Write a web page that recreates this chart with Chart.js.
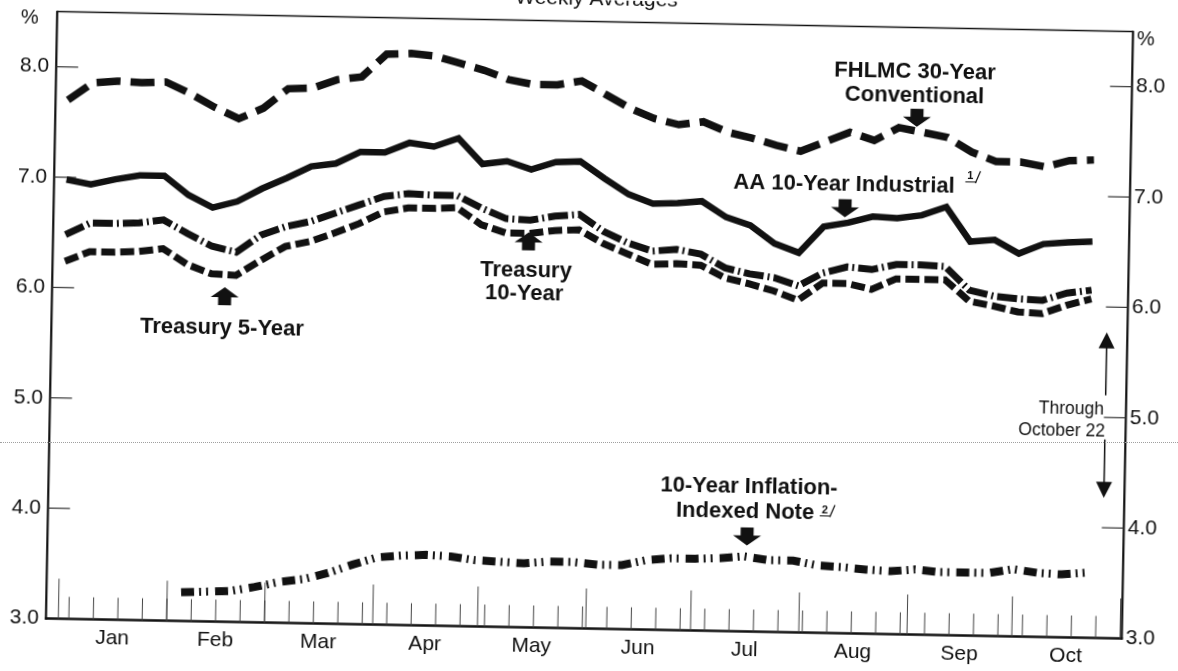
<!DOCTYPE html>
<html>
<head>
<meta charset="utf-8">
<script src="https://cdn.jsdelivr.net/npm/chart.js@4.4.1/dist/chart.umd.min.js"></script>
<style>
html,body{margin:0;padding:0;background:#fff;overflow:hidden;width:1178px;height:671px;}
#wrap{position:absolute;left:0;top:0;width:1178px;height:671px;transform:rotate(1.065deg);transform-origin:589px 335.5px;}
#fold{position:absolute;left:0;top:442px;width:1178px;height:0;border-top:1px dotted #a0a0a0;}
canvas{display:block;}
</style>
</head>
<body>
<div id="wrap"><canvas id="c" width="1178" height="671"></canvas></div>
<div id="fold"></div>
<script>
// ---- categories (weekly averages, 1997) ----
const weekDates = [
 '1997-01-01','1997-01-08','1997-01-15','1997-01-22','1997-01-29',
 '1997-02-05','1997-02-12','1997-02-19','1997-02-26',
 '1997-03-05','1997-03-12','1997-03-19','1997-03-26',
 '1997-04-02','1997-04-09','1997-04-16','1997-04-23','1997-04-30',
 '1997-05-07','1997-05-14','1997-05-21','1997-05-28',
 '1997-06-04','1997-06-11','1997-06-18','1997-06-25',
 '1997-07-02','1997-07-09','1997-07-16','1997-07-23','1997-07-30',
 '1997-08-06','1997-08-13','1997-08-20','1997-08-27',
 '1997-09-03','1997-09-10','1997-09-17','1997-09-24',
 '1997-10-01','1997-10-08','1997-10-15','1997-10-22'
];
const monthNames = ['Jan','Feb','Mar','Apr','May','Jun','Jul','Aug','Sep','Oct'];
const monthStartDates = ['1997-01-01','1997-02-01','1997-03-01','1997-04-01','1997-05-01','1997-06-01',
 '1997-07-01','1997-08-01','1997-09-01','1997-10-01','1997-11-01'];
const yTickValues = [3, 4, 5, 6, 7, 8];

// ---- series (percent) ----
const fhlmc30 = [7.70,7.86,7.88,7.87,7.88,7.78,7.66,7.56,7.66,7.84,7.85,7.93,7.96,8.17,8.18,8.16,8.10,8.04,7.96,7.92,7.92,7.96,7.84,7.72,7.63,7.58,7.61,7.52,7.47,7.41,7.36,7.45,7.54,7.47,7.59,7.55,7.51,7.38,7.30,7.30,7.26,7.32,7.33];
const aa10 = [6.98,6.94,6.99,7.03,7.03,6.86,6.75,6.81,6.93,7.03,7.14,7.17,7.28,7.28,7.37,7.34,7.42,7.19,7.22,7.15,7.22,7.23,7.08,6.94,6.86,6.87,6.89,6.75,6.68,6.52,6.44,6.68,6.72,6.78,6.77,6.80,6.88,6.57,6.59,6.47,6.56,6.58,6.59];
const treasury10 = [6.48,6.59,6.59,6.60,6.63,6.51,6.40,6.35,6.51,6.59,6.64,6.72,6.80,6.88,6.91,6.90,6.90,6.79,6.70,6.69,6.73,6.75,6.60,6.50,6.43,6.45,6.41,6.29,6.24,6.21,6.14,6.26,6.32,6.30,6.35,6.35,6.34,6.13,6.08,6.06,6.05,6.12,6.15];
const treasury5 = [6.24,6.33,6.33,6.34,6.37,6.23,6.15,6.14,6.28,6.41,6.46,6.54,6.63,6.74,6.78,6.78,6.79,6.64,6.57,6.57,6.60,6.61,6.49,6.40,6.31,6.32,6.31,6.20,6.15,6.09,6.01,6.17,6.17,6.12,6.22,6.22,6.22,6.03,5.99,5.94,5.93,6.01,6.07];
const tips10 = [null,null,null,null,null,3.26,3.27,3.28,3.32,3.37,3.40,3.46,3.54,3.61,3.63,3.64,3.63,3.60,3.59,3.58,3.60,3.60,3.58,3.58,3.63,3.65,3.65,3.66,3.68,3.65,3.65,3.61,3.60,3.58,3.57,3.59,3.57,3.57,3.57,3.61,3.58,3.57,3.59];

// ---- derived positions (days since Jan 1) ----
const Y0 = Date.UTC(1997, 0, 1);
const dayOf = s => (Date.parse(s + 'T00:00:00Z') - Y0) / 86400000;
const weekDays = weekDates.map(dayOf);
const monthStarts = monthStartDates.map(dayOf);
const monthCenters = monthNames.map((_, i) => (monthStarts[i] + monthStarts[i + 1]) / 2);
const WEEK_TICK_OFFSET = 3;

const FONT = "'Liberation Sans', Arial, Helvetica, sans-serif";
const INK = '#111';

const seriesList = [
  {label: 'FHLMC 30-Year Conventional', values: fhlmc30, width: 7.5, dash: [24, 10]},
  {label: 'AA 10-Year Industrial', values: aa10, width: 6.5, dash: []},
  {label: 'Treasury 10-Year', values: treasury10, width: 7, dash: [20, 4, 2, 4]},
  {label: 'Treasury 5-Year', values: treasury5, width: 7, dash: [14, 5]},
  {label: '10-Year Inflation-Indexed Note', values: tips10, width: 8, dash: [13, 5, 2, 5, 2, 7]}
];

// annotation placement in data units (day, percent)
const labels = [
  {t: 242.3, v: 8.10, text: 'FHLMC 30-Year'},
  {t: 242.3, v: 7.88, text: 'Conventional'},
  {t: 222.6, v: 7.06, text: 'AA 10-Year Industrial'},
  {t: 45.3, v: 5.66, text: 'Treasury 5-Year'},
  {t: 132.0, v: 6.23, text: 'Treasury'},
  {t: 131.6, v: 6.02, text: '10-Year'},
  {t: 197.0, v: 4.31, text: '10-Year Inflation-'},
  {t: 196.0, v: 4.08, text: 'Indexed Note'}
];
const footnotes = [
  {t: 257.3, v: 7.11, text: '1'},
  {t: 217.4, v: 4.06, text: '2'}
];
const blockArrows = [
  {t: 243.1, v: 7.60, dir: 1},
  {t: 223.0, v: 6.77, dir: 1},
  {t: 45.9, v: 6.03, dir: -1},
  {t: 132.6, v: 6.58, dir: -1},
  {t: 196.7, v: 3.78, dir: 1}
];
const noteTexts = [
  {t: 298.2, v: 5.07, text: 'Through'},
  {t: 298.6, v: 4.87, text: 'October 22'}
];
const lineArrows = [
  {t: 298.6, from: 5.20, to: 5.77},
  {t: 298.6, from: 4.80, to: 4.27}
];

function seg(ctx, x1, y1, x2, y2) { ctx.beginPath(); ctx.moveTo(x1, y1); ctx.lineTo(x2, y2); ctx.stroke(); }

const framePlugin = {
  id: 'frame',
  beforeDatasetsDraw(chart) {
    const {ctx, chartArea: a, scales: {x, y}} = chart;
    ctx.save();
    ctx.strokeStyle = INK;
    ctx.lineCap = 'butt';
    ctx.lineWidth = 1.5; seg(ctx, a.left, a.top, a.right, a.top);
    ctx.lineWidth = 2.2; seg(ctx, a.left, a.top - 0.7, a.left, a.bottom + 1);
    seg(ctx, a.right, a.top - 0.7, a.right, a.bottom + 1);
    ctx.lineWidth = 2.5; seg(ctx, a.left - 1, a.bottom, a.right + 1, a.bottom);
    // inward value ticks
    ctx.strokeStyle = '#333'; ctx.lineWidth = 1.2;
    yTickValues.forEach(v => {
      if (v <= y.min) return;
      const py = y.getPixelForValue(v);
      seg(ctx, a.left, py, a.left + 22, py);
      seg(ctx, a.right - 22, py, a.right, py);
    });
    // weekly ticks
    ctx.strokeStyle = '#444'; ctx.lineWidth = 1;
    weekDays.forEach(d => {
      const px = x.getPixelForValue(d + WEEK_TICK_OFFSET);
      seg(ctx, px, a.bottom, px, a.bottom - 22);
    });
    // month boundary ticks
    monthStarts.forEach(d => {
      if (d <= x.min || d >= x.max) return;
      const px = x.getPixelForValue(d);
      seg(ctx, px, a.bottom, px, a.bottom - 40);
    });
    // % signs
    ctx.fillStyle = INK;
    ctx.font = '20px ' + FONT;
    ctx.textBaseline = 'middle';
    ctx.textAlign = 'center';
    ctx.fillText('%', a.left - 27.5, y.getPixelForValue(8.44));
    ctx.textAlign = 'left';
    ctx.fillText('%', a.right + 4, y.getPixelForValue(8.43));
    // title (cropped at the top edge as in the scan)
    ctx.textAlign = 'center';
    ctx.textBaseline = 'alphabetic';
    ctx.font = '21px ' + FONT;
    ctx.fillText('Weekly Averages', (a.left + a.right) / 2 + 1, 5);
    ctx.restore();
  },
  afterDatasetsDraw(chart) {
    const {ctx, scales: {x, y}} = chart;
    ctx.save();
    ctx.fillStyle = INK; ctx.strokeStyle = INK;
    ctx.textBaseline = 'middle'; ctx.textAlign = 'center';
    ctx.font = 'bold 22px ' + FONT;
    labels.forEach(l => ctx.fillText(l.text, x.getPixelForValue(l.t), y.getPixelForValue(l.v)));
    // footnote marks: underlined number with slash
    footnotes.forEach(f => {
      const px = x.getPixelForValue(f.t), py = y.getPixelForValue(f.v);
      ctx.font = 'bold 11px ' + FONT; ctx.textAlign = 'center';
      ctx.fillText(f.text, px + 5, py - 6);
      ctx.lineWidth = 1; seg(ctx, px, py, px + 11, py);
      ctx.lineWidth = 1.2; seg(ctx, px + 10, py + 1, px + 15, py - 11);
    });
    // block arrows
    blockArrows.forEach(b => {
      const px = x.getPixelForValue(b.t), tip = y.getPixelForValue(b.v);
      const hw = 14, sw = 6.5, hh = 10, sh = 8;
      const base = tip - b.dir * hh, stem = base - b.dir * sh;
      ctx.beginPath();
      ctx.moveTo(px, tip); ctx.lineTo(px + hw, base); ctx.lineTo(px + sw, base);
      ctx.lineTo(px + sw, stem); ctx.lineTo(px - sw, stem); ctx.lineTo(px - sw, base);
      ctx.lineTo(px - hw, base); ctx.closePath(); ctx.fill();
    });
    // "Through October 22" note
    ctx.font = '17.5px ' + FONT; ctx.textAlign = 'right';
    noteTexts.forEach(n => ctx.fillText(n.text, x.getPixelForValue(n.t), y.getPixelForValue(n.v)));
    ctx.lineWidth = 1.5;
    lineArrows.forEach(l => {
      const px = x.getPixelForValue(l.t), y0 = y.getPixelForValue(l.from), tip = y.getPixelForValue(l.to);
      const dir = Math.sign(tip - y0);
      seg(ctx, px, y0, px, tip - dir * 14);
      ctx.beginPath(); ctx.moveTo(px, tip); ctx.lineTo(px + 8, tip - dir * 16); ctx.lineTo(px - 8, tip - dir * 16); ctx.closePath(); ctx.fill();
    });
    ctx.restore();
  }
};

Chart.defaults.font.family = FONT;
Chart.defaults.color = INK;

const noGrid = {display: false, drawTicks: false, drawOnChartArea: false};

new Chart(document.getElementById('c'), {
  type: 'line',
  data: {
    datasets: seriesList.map(s => ({
      label: s.label,
      data: weekDays.map((d, i) => ({x: d, y: s.values[i]})),
      borderColor: INK,
      backgroundColor: INK,
      borderWidth: s.width,
      borderDash: s.dash,
      borderCapStyle: 'butt',
      borderJoinStyle: 'miter',
      pointRadius: 0,
      tension: 0,
      fill: false,
      spanGaps: false,
      yAxisID: 'y'
    }))
  },
  options: {
    responsive: false,
    devicePixelRatio: 1,
    animation: false,
    events: [],
    layout: {padding: {top: 21.5, left: 0, right: 0, bottom: 0}},
    plugins: {legend: {display: false}, tooltip: {enabled: false}, title: {display: false}},
    scales: {
      x: {
        type: 'linear', min: -3.55, max: 304.5,
        grid: noGrid, border: {display: false},
        afterBuildTicks: s => { s.ticks = monthCenters.map(v => ({value: v})); },
        afterFit: s => { s.height = 42.5; },
        ticks: {autoSkip: false, maxRotation: 0, padding: 6, font: {size: 21},
          callback: (v, i) => monthNames[i]}
      },
      y: {
        type: 'linear', position: 'left', min: 3, max: 8.5,
        grid: noGrid, border: {display: false},
        afterBuildTicks: s => { s.ticks = yTickValues.map(v => ({value: v})); },
        afterFit: s => { s.width = 51.3; },
        ticks: {padding: 7, font: {size: 21}, callback: v => Number(v).toFixed(1)}
      },
      y2: {
        type: 'linear', position: 'right', min: 3, max: 8.5,
        grid: noGrid, border: {display: false},
        afterBuildTicks: s => { s.ticks = yTickValues.map(v => ({value: v})); },
        afterFit: s => { s.width = 50.7; },
        ticks: {padding: 4, font: {size: 21}, callback: v => Number(v).toFixed(1)}
      }
    }
  },
  plugins: [framePlugin]
});
</script>
</body>
</html>
